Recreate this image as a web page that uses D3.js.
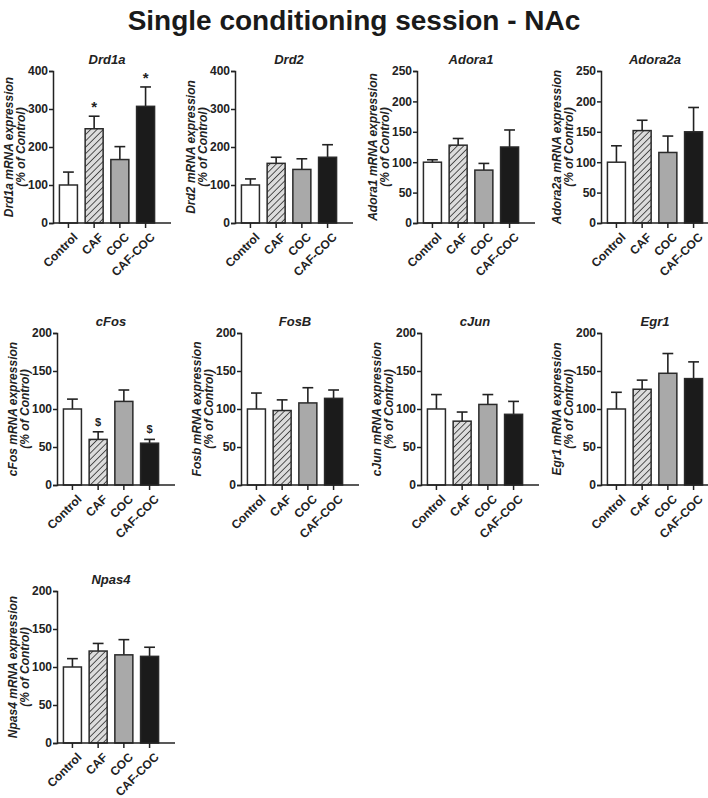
<!DOCTYPE html>
<html>
<head>
<meta charset="utf-8">
<script src="https://cdn.jsdelivr.net/npm/d3@7"></script>
<style>
  body { margin: 0; background: #fff; }
  svg { font-family: "Liberation Sans", Arial, sans-serif; }
</style>
</head>
<body>
<svg id="chart" width="708" height="798"></svg>
<script>
// --- Data ---
const groups = ["Control", "CAF", "COC", "CAF-COC"];
const genes = ["Drd1a", "Drd2", "Adora1", "Adora2a", "cFos", "FosB", "cJun", "Egr1", "Npas4"];
const yLabelGenes = ["Drd1a", "Drd2", "Adora1", "Adora2a", "cFos", "Fosb", "cJun", "Egr1", "Npas4"];
const yMax = [400, 400, 250, 250, 200, 200, 200, 200, 200];
const yStep = [100, 100, 50, 50, 50, 50, 50, 50, 50];
const means = [
  [100, 248, 167, 307],
  [100, 157, 141, 173],
  [100, 128, 87, 125],
  [100, 152, 116, 150],
  [100, 60, 110, 55],
  [100, 98, 108, 114],
  [100, 84, 106, 93],
  [100, 126, 147, 140],
  [100, 121, 116, 114]
];
const sems = [
  [34, 33, 34, 51],
  [16, 16, 28, 33],
  [4, 11, 11, 28],
  [27, 17, 27, 40],
  [13, 10, 15, 5],
  [21, 14, 20, 11],
  [19, 12, 13, 17],
  [22, 12, 26, 22],
  [11, 10, 20, 12]
];
const marks = [
  ["", "*", "", "*"],
  ["", "", "", ""], ["", "", "", ""], ["", "", "", ""],
  ["", "$", "", "$"],
  ["", "", "", ""], ["", "", "", ""], ["", "", "", ""], ["", "", "", ""]
];

// --- Layout ---
const origins = [
  [53, 71], [235, 71], [417, 71], [601, 71],
  [57, 333], [241, 333], [421, 333], [601, 333],
  [57, 591]
];
const plotH = 152, axisW = 118, barRange = 108;
const fills = ["#ffffff", "url(#hatch)", "#a9a9a9", "#1b1b1b"];

const svg = d3.select("#chart");

// hatch pattern for CAF bars
const defs = svg.append("defs");
const pat = defs.append("pattern")
  .attr("id", "hatch")
  .attr("patternUnits", "userSpaceOnUse")
  .attr("width", 4.5).attr("height", 4.5)
  .attr("patternTransform", "rotate(45)");
pat.append("rect").attr("width", 4.5).attr("height", 4.5).attr("fill", "#dcdcdc");
pat.append("line").attr("x1", 0).attr("y1", 0).attr("x2", 0).attr("y2", 4.5)
  .attr("stroke", "#222").attr("stroke-width", 1.5);

svg.append("text")
  .attr("x", 354).attr("y", 30)
  .attr("text-anchor", "middle")
  .attr("font-size", 28).attr("font-weight", "bold")
  .attr("fill", "#1a1a1a")
  .text("Single conditioning session - NAc");

genes.forEach((gene, i) => {
  const [ox, oy] = origins[i];
  const g = svg.append("g").attr("transform", `translate(${ox},${oy})`);

  const x = d3.scaleBand().domain(groups).range([0, barRange])
    .paddingInner(0.3).paddingOuter(0.25);
  const y = d3.scaleLinear().domain([0, yMax[i]]).range([plotH, 0]);

  const data = groups.map((grp, j) => ({
    grp, mean: means[i][j], sem: sems[i][j], mark: marks[i][j], fill: fills[j]
  }));

  // error bars (upper only)
  const cap = x.bandwidth() * 0.3;
  g.selectAll("line.err").data(data).join("line")
    .attr("class", "err")
    .attr("x1", d => x(d.grp) + x.bandwidth() / 2)
    .attr("x2", d => x(d.grp) + x.bandwidth() / 2)
    .attr("y1", d => y(d.mean))
    .attr("y2", d => y(d.mean + d.sem))
    .attr("stroke", "#222").attr("stroke-width", 1.6);
  g.selectAll("line.cap").data(data).join("line")
    .attr("class", "cap")
    .attr("x1", d => x(d.grp) + x.bandwidth() / 2 - cap)
    .attr("x2", d => x(d.grp) + x.bandwidth() / 2 + cap)
    .attr("y1", d => y(d.mean + d.sem))
    .attr("y2", d => y(d.mean + d.sem))
    .attr("stroke", "#222").attr("stroke-width", 1.6);

  // bars
  g.selectAll("rect.bar").data(data).join("rect")
    .attr("class", "bar")
    .attr("x", d => x(d.grp))
    .attr("width", x.bandwidth())
    .attr("y", d => y(d.mean))
    .attr("height", d => plotH - y(d.mean))
    .attr("fill", d => d.fill)
    .attr("stroke", "#2a2a2a").attr("stroke-width", 1.5);

  // significance marks
  g.selectAll("text.mark").data(data.filter(d => d.mark)).join("text")
    .attr("class", "mark")
    .attr("x", d => x(d.grp) + x.bandwidth() / 2)
    .attr("y", d => y(d.mean + d.sem) - (d.mark === "*" ? 4 : 6))
    .attr("text-anchor", "middle")
    .attr("font-size", d => d.mark === "*" ? 15 : 11)
    .attr("font-weight", "bold")
    .attr("fill", "#222")
    .text(d => d.mark);

  // y axis
  const ya = g.append("g")
    .call(d3.axisLeft(y).tickValues(d3.range(0, yMax[i] + 1, yStep[i])).tickSize(4).tickPadding(1));
  ya.select(".domain").attr("stroke", "#222").attr("stroke-width", 1.5);
  ya.selectAll(".tick line").attr("stroke", "#222").attr("stroke-width", 1.5);
  ya.selectAll(".tick text").attr("font-size", 12).attr("font-weight", "bold")
    .attr("fill", "#222").attr("font-family", "Liberation Sans, Arial, sans-serif");

  // x axis
  const xa = g.append("g").attr("transform", `translate(0,${plotH})`);
  xa.append("line").attr("x1", 0).attr("x2", axisW).attr("y1", 0).attr("y2", 0)
    .attr("stroke", "#222").attr("stroke-width", 1.5);
  xa.selectAll("line.tk").data(groups).join("line")
    .attr("class", "tk")
    .attr("x1", d => x(d) + x.bandwidth() / 2).attr("x2", d => x(d) + x.bandwidth() / 2)
    .attr("y1", 0).attr("y2", 5)
    .attr("stroke", "#222").attr("stroke-width", 1.5);
  xa.selectAll("text").data(groups).join("text")
    .attr("transform", d => `translate(${x(d) + x.bandwidth() / 2 + 4},${9}) rotate(-45)`)
    .attr("text-anchor", "end")
    .attr("dy", "0.7em")
    .attr("font-size", 12).attr("font-weight", "bold").attr("fill", "#222")
    .text(d => d);

  // panel title
  g.append("text")
    .attr("x", barRange / 2).attr("y", -7)
    .attr("text-anchor", "middle")
    .attr("font-size", 13).attr("font-weight", "bold").attr("font-style", "italic")
    .attr("fill", "#222")
    .text(gene);

  // y label
  const yl = g.append("text")
    .attr("transform", `translate(-40,${plotH / 2}) rotate(-90)`)
    .attr("text-anchor", "middle")
    .attr("font-size", 12).attr("font-weight", "bold").attr("font-style", "italic")
    .attr("fill", "#222");
  yl.append("tspan").attr("x", 0).attr("y", 0).text(`${yLabelGenes[i]} mRNA expression`);
  yl.append("tspan").attr("x", 0).attr("y", 12).text("(% of Control)");
});
</script>
</body>
</html>
